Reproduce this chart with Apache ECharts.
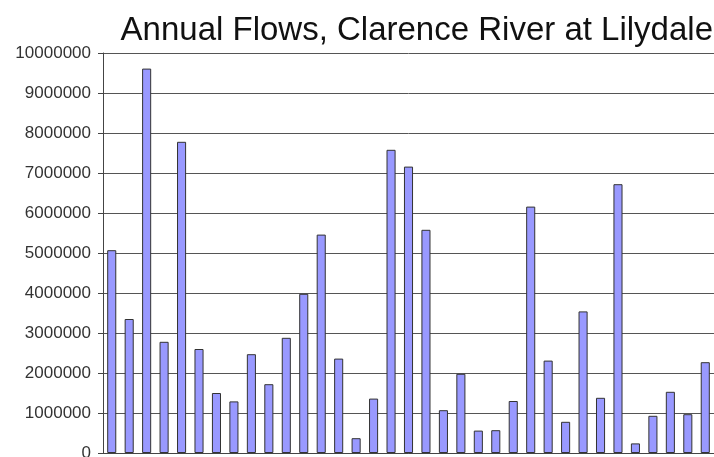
<!DOCTYPE html>
<html>
<head>
<meta charset="utf-8">
<script src="https://cdn.jsdelivr.net/npm/echarts@6/dist/echarts.min.js"></script>
<style>
  html, body { margin: 0; padding: 0; background: #fff; }
  #chart { width: 714px; height: 457px; }
</style>
</head>
<body>
<div id="chart"></div>
<script>
// annual flows (one bar per year, x labels are cut off)
const years = ['1','2','3','4','5','6','7','8','9','10','11','12','13','14','15','16','17','18',
  '19','20','21','22','23','24','25','26','27','28','29','30','31','32','33','34','35']
const flows = [5070000, 3350000, 9610000, 2780000, 7780000, 2600000, 1500000, 1290000, 2470000,
  1720000, 2880000, 3980000, 5460000, 2360000, 370000, 1360000, 7580000, 7160000, 5580000,
  1070000, 1980000, 560000, 570000, 1300000, 6160000, 2310000, 780000, 3540000, 1380000,
  6720000, 240000, 930000, 1530000, 970000, 2270000]
const yTicks = [0, 10000000, 1000000] // min, max, step

const chart = echarts.init(document.getElementById('chart'))
const option = {
  animation: false,
  title: {
    text: 'Annual Flows, Clarence River at Lilydale',
    right: -4,
    top: 9,
    textStyle: {
      color: '#111',
      fontFamily: 'Liberation Sans, Arial, sans-serif',
      fontSize: 33,
      fontWeight: 'normal'
    }
  },
  grid: {
    left: 103,
    right: 0,
    top: 53,
    bottom: 4,
    outerBoundsMode: 'none'
  },
  xAxis: {
    type: 'category',
    data: years,
    axisLine: { lineStyle: { color: '#444', width: 1 } },
    axisTick: { show: false },
    axisLabel: { show: false }
  },
  yAxis: {
    type: 'value',
    min: yTicks[0],
    max: yTicks[1],
    interval: yTicks[2],
    axisLine: { show: true, lineStyle: { color: '#444', width: 1 } },
    axisTick: { show: true, length: 5, lineStyle: { color: '#444' } },
    axisLabel: {
      margin: 12,
      color: '#333',
      fontFamily: 'Liberation Sans, Arial, sans-serif',
      fontSize: 17,
      formatter: function (v) { return String(v) }
    },
    splitLine: { lineStyle: { color: '#555', width: 1 } }
  },
  series: [{
    type: 'bar',
    data: flows,
    barWidth: '52%',
    itemStyle: {
      color: '#9999ff',
      borderColor: '#333',
      borderWidth: 1
    }
  }]
}
chart.setOption(option)
</script>
</body>
</html>
